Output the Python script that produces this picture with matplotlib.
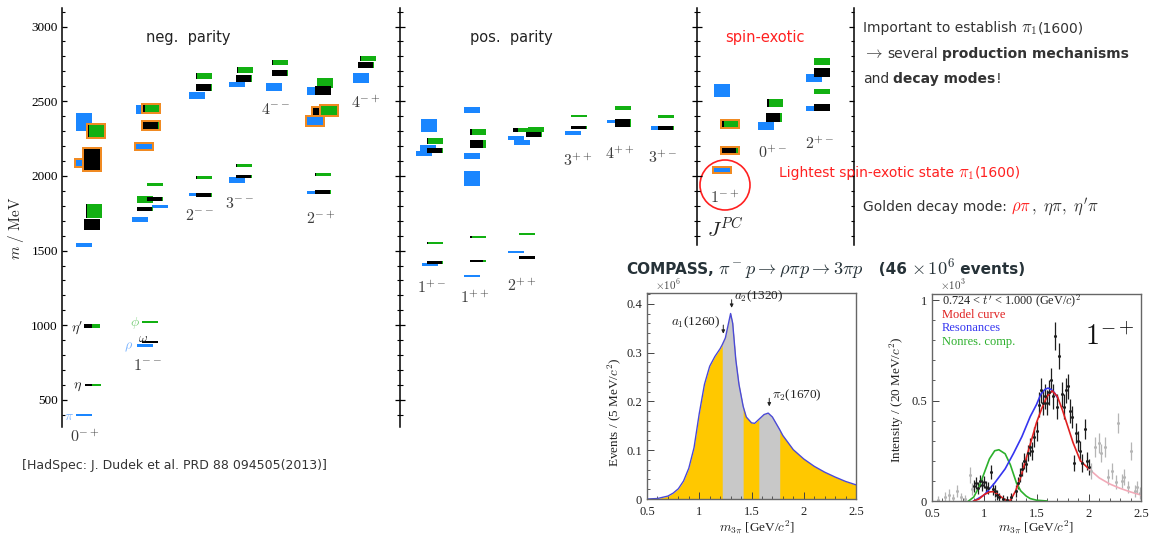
import matplotlib
matplotlib.use("Agg")
import matplotlib.pyplot as plt
import numpy as np
from matplotlib.patches import Rectangle, Ellipse
from matplotlib.ticker import MultipleLocator, NullFormatter

plt.rcParams['mathtext.fontset'] = 'cm'
plt.rcParams['font.family'] = 'DejaVu Sans'

W, H = 1151, 540

# ---------------- lattice spectrum (HadSpec) ----------------
jpc = [r"$0^{-+}$", r"$1^{--}$", r"$2^{--}$", r"$3^{--}$", r"$4^{--}$", r"$2^{-+}$", r"$4^{-+}$",
       r"$1^{+-}$", r"$1^{++}$", r"$2^{++}$", r"$3^{++}$", r"$4^{++}$", r"$3^{+-}$",
       r"$1^{-+}$", r"$0^{+-}$", r"$2^{+-}$"]

# isovector states (blue): column, mass, uncertainty, hybrid candidate
iv_col = [0, 0, 0, 0, 1, 1, 1, 1, 1, 2, 2, 3, 3, 4, 5, 5, 5, 6,
          7, 7, 7, 7, 8, 8, 8, 8, 9, 9, 9, 10, 11, 12, 13, 13, 14, 15, 15]
iv_mass = [400, 1540, 2087, 2360, 865, 1710, 1797, 2197, 2443, 1877, 2537, 1973, 2610, 2593,
           1890, 2367, 2567, 2653, 1410, 2150, 2183, 2337, 1333, 1983, 2133, 2440,
           1493, 2223, 2253, 2287, 2363, 2320, 2040, 2570, 2333, 2450, 2653]
iv_err = [6, 13, 20, 60, 6, 17, 10, 17, 30, 10, 23, 20, 17, 27, 10, 27, 27, 33,
          10, 17, 23, 43, 7, 50, 17, 20, 7, 17, 13, 13, 10, 13, 13, 43, 27, 17, 27]
iv_hybrid = [0, 0, 1, 0, 0, 0, 0, 1, 0, 0, 0, 0, 0, 0, 0, 1, 0, 0,
             0, 0, 0, 0, 0, 0, 0, 0, 0, 0, 0, 0, 0, 0, 1, 0, 0, 0, 0]

# isoscalar states: column, mass, uncertainty, strange fraction (green part), hybrid candidate
is_col = [0, 0, 0, 0, 0, 0, 1, 1, 1, 1, 1, 1, 1, 1, 2, 2, 2, 2, 3, 3, 3, 3, 4, 4,
          5, 5, 5, 5, 5, 5, 6, 6, 7, 7, 7, 7, 8, 8, 8, 8, 9, 9, 9, 9, 9,
          10, 10, 11, 11, 12, 12, 13, 13, 14, 14, 15, 15, 15, 15]
is_mass = [600, 995, 1677, 1767, 2110, 2300, 890, 1020, 1780, 1843, 1847, 1943, 2337, 2450,
           1873, 1990, 2590, 2667, 1997, 2070, 2650, 2707, 2687, 2757,
           1893, 2010, 2430, 2437, 2620, 2570, 2740, 2783, 1420, 1553, 2170, 2233,
           1433, 1593, 2213, 2293, 1457, 1610, 2305, 2280, 2312,
           2323, 2400, 2353, 2453, 2320, 2397, 2170, 2347, 2390, 2487, 2457, 2563, 2690, 2763]
is_err = [7, 13, 37, 47, 70, 40, 5, 5, 13, 23, 13, 10, 22, 25,
          13, 10, 23, 20, 10, 10, 23, 20, 20, 17,
          13, 10, 23, 30, 33, 30, 20, 17, 13, 7, 17, 20,
          7, 7, 27, 20, 10, 4, 13, 17, 15,
          10, 7, 27, 13, 13, 10, 17, 20, 30, 27, 23, 17, 30, 23]
is_ss = [0.55, 0.47, 0.0, 0.95, 0.0, 0.95, 0.0, 1.0, 0.05, 1.0, 0.05, 1.0, 0.05, 0.9,
         0.05, 0.95, 0.05, 0.95, 0.05, 0.95, 0.05, 0.95, 0.05, 0.95,
         0.05, 0.95, 0.05, 1.0, 1.0, 0.0, 0.05, 0.95, 0.05, 0.95, 0.05, 0.95,
         0.2, 0.9, 0.2, 0.85, 0.0, 1.0, 0.7, 0.05, 1.0,
         0.05, 1.0, 0.05, 1.0, 0.05, 1.0, 0.15, 0.9, 0.1, 0.9, 0.0, 1.0, 0.0, 1.0]
is_hybrid = [0, 0, 0, 0, 1, 1, 0, 0, 0, 0, 0, 0, 1, 1,
             0, 0, 0, 0, 0, 0, 0, 0, 0, 0,
             0, 0, 1, 1, 0, 0, 0, 0, 0, 0, 0, 0,
             0, 0, 0, 0, 0, 0, 0, 0, 0,
             0, 0, 0, 0, 0, 0, 1, 1, 0, 0, 0, 0, 0, 0]

# ---------------- COMPASS 3pi mass spectrum ----------------
m3pi = np.array([0.50, 0.60, 0.70, 0.75, 0.80, 0.85, 0.90, 0.95, 1.00, 1.05, 1.10, 1.15, 1.20,
                 1.22, 1.25, 1.28, 1.30, 1.32, 1.35, 1.38, 1.42, 1.45, 1.50, 1.53, 1.57, 1.62,
                 1.66, 1.70, 1.77, 1.80, 1.90, 2.00, 2.10, 2.20, 2.30, 2.40, 2.50])
events = np.array([0.000, 0.001, 0.006, 0.012, 0.021, 0.037, 0.063, 0.105, 0.175, 0.235, 0.272,
                   0.292, 0.308, 0.316, 0.330, 0.360, 0.380, 0.360, 0.285, 0.235, 0.190, 0.168,
                   0.156, 0.155, 0.163, 0.173, 0.176, 0.168, 0.142, 0.130, 0.101, 0.082, 0.067,
                   0.055, 0.045, 0.036, 0.029])
bands = [(1.22, 1.42), (1.57, 1.77)]

# ---------------- COMPASS 1-+ intensity ----------------
pt_m = np.array([0.56, 0.62, 0.66, 0.70, 0.74, 0.78, 0.82, 0.86, 0.88,
                 0.90, 0.92, 0.94, 0.96, 0.98, 1.00, 1.02, 1.04, 1.06, 1.08, 1.10, 1.12, 1.14,
                 1.18, 1.22, 1.26, 1.30, 1.32, 1.34, 1.36, 1.38, 1.40, 1.42, 1.44, 1.46, 1.48,
                 1.50, 1.52, 1.54, 1.56, 1.58, 1.60, 1.62, 1.64, 1.66, 1.68, 1.70, 1.72, 1.74,
                 1.76, 1.78, 1.80, 1.82, 1.84, 1.86, 1.88, 1.90, 1.92, 1.94, 1.96, 1.98, 2.00,
                 2.02, 2.06, 2.10, 2.12, 2.16, 2.18, 2.22, 2.26, 2.28, 2.32, 2.34, 2.38, 2.40,
                 2.44, 2.46, 2.49])
pt_i = np.array([0.005, 0.02, 0.03, 0.015, 0.05, 0.02, 0.01, 0.13, 0.06,
                 0.075, 0.09, 0.065, 0.10, 0.08, 0.095, 0.07, 0.065, 0.145, 0.06, 0.05, 0.03, 0.02,
                 0.01, 0.005, 0.02, 0.05, 0.09, 0.13, 0.16, 0.20, 0.185, 0.24, 0.27, 0.25, 0.32,
                 0.35, 0.48, 0.55, 0.49, 0.52, 0.49, 0.54, 0.60, 0.52, 0.82, 0.47, 0.72, 0.53,
                 0.47, 0.55, 0.57, 0.45, 0.42, 0.19, 0.34, 0.30, 0.25, 0.19, 0.36, 0.20, 0.17,
                 0.15, 0.27, 0.29, 0.24, 0.27, 0.12, 0.15, 0.095, 0.39, 0.10, 0.12, 0.07, 0.25,
                 0.05, 0.07, 0.04])
pt_e = np.array([0.02, 0.025, 0.03, 0.02, 0.03, 0.02, 0.02, 0.04, 0.03,
                 0.03, 0.03, 0.03, 0.03, 0.03, 0.03, 0.03, 0.03, 0.035, 0.03, 0.03, 0.025, 0.02,
                 0.02, 0.02, 0.02, 0.03, 0.03, 0.035, 0.035, 0.04, 0.04, 0.04, 0.045, 0.045, 0.05,
                 0.05, 0.06, 0.06, 0.06, 0.06, 0.06, 0.06, 0.06, 0.06, 0.07, 0.06, 0.065, 0.06,
                 0.06, 0.06, 0.06, 0.06, 0.055, 0.04, 0.05, 0.05, 0.05, 0.045, 0.05, 0.045, 0.04,
                 0.04, 0.05, 0.05, 0.045, 0.05, 0.04, 0.04, 0.035, 0.05, 0.035, 0.04, 0.03, 0.045,
                 0.03, 0.03, 0.03])
fit_range = (0.9, 2.0)

model_m = [0.90, 0.95, 1.00, 1.05, 1.09, 1.15, 1.20, 1.25, 1.30, 1.35, 1.40, 1.45, 1.50,
           1.55, 1.60, 1.65, 1.70, 1.75, 1.80, 1.85, 1.92, 2.00]
model_i = [0.0, 0.01, 0.032, 0.045, 0.047, 0.025, 0.005, 0.003, 0.05, 0.12, 0.21, 0.30, 0.39,
           0.46, 0.52, 0.548, 0.52, 0.45, 0.37, 0.29, 0.20, 0.16]
tail_m = [2.00, 2.10, 2.20, 2.30, 2.40, 2.50]
tail_i = [0.16, 0.115, 0.085, 0.063, 0.045, 0.03]
res_m = [0.90, 1.00, 1.10, 1.20, 1.28, 1.36, 1.44, 1.50, 1.54, 1.58, 1.61, 1.64, 1.67, 1.70]
res_i = [0.0, 0.03, 0.09, 0.16, 0.237, 0.32, 0.42, 0.48, 0.53, 0.555, 0.562, 0.555, 0.54, 0.515]
nonres_m = [0.85, 0.90, 0.95, 1.00, 1.05, 1.10, 1.14, 1.20, 1.25, 1.31, 1.35, 1.40, 1.44, 1.50, 1.60]
nonres_i = [0.0, 0.02, 0.07, 0.14, 0.21, 0.25, 0.255, 0.235, 0.18, 0.087, 0.05, 0.025, 0.012, 0.004, 0.0]

# ---------------- layout ----------------
col_x = [88, 148, 201, 241, 278, 319, 365, 433, 476, 520, 577, 619, 663, 726, 770, 818]
col_panel = [0] * 7 + [1] * 6 + [2] * 3
iv_shift = [0, 0, 0, 0, 1, -4, 16, 0, 0, 0, 0, 0, 0, 0, 0, 0, 0, 0,
            1, -5, -1, 0, 0, 0, 0, 0, 0, 6, 0, 0, 0, 0, 0, 0, 0, 0, 0]
is_shift = [2, 1, 1, 3, 1, 5, -1, -1, -6, -6, 4, 4, 0, 0,
            0, 0, 0, 0, 0, 0, 0, 1, -1, -1,
            1, 1, -1, 7, 3, 1, -2, 0, -1, -1, -1, -1,
            -1, -1, -1, -1, 4, 4, -2, 11, 13,
            -1, -1, 1, 1, 0, 0, 1, 1, 1, 2, 1, 1, 1, 1]
label_px = [(85, 437), (148, 366), (200, 216), (240, 204), (276, 109), (321, 219), (366, 103),
            (432, 288), (475, 298), (522, 286), (578, 161), (620, 154), (663, 158),
            (725, 198), (773, 153), (820, 144)]

BLUE, GREEN, ORANGE = '#1a86ff', '#12b012', '#f08a22'
TXT = '#333333'
RED = '#ff2020'
REW = 16  # state box width in px


def mass_at(ypx):
    return 3000 - (ypx - 26.5) * 2500 / 373.5


def px_axes(x0, y0, x1, y1):
    return fig.add_axes([x0 / W, 1 - y1 / H, (x1 - x0) / W, (y1 - y0) / H])


def ftext(x, y, s, **kw):
    return fig.text(x / W, 1 - y / H, s, **kw)


fig = plt.figure(figsize=(W / 100, H / 100), dpi=100)
renderer = fig.canvas.get_renderer()


def chain(x, y, parts, fontsize=10):
    # text pieces with different colours/weights, laid out one after another
    for s, props in parts:
        gap = 4 if s.endswith(' ') else 0
        kw = dict(fontsize=fontsize * 1.2 if s.startswith('$') else fontsize)
        kw.update(props)
        t = ftext(x, y, s.rstrip(' '), va='baseline', ha='left', **kw)
        x += t.get_window_extent(renderer=renderer).width + gap
    return x


# spectrum panels
m_top, m_bot = mass_at(8), mass_at(427)
ax1 = px_axes(62, 8, 400, 427)
ax2 = px_axes(400, 8, 697, 427)
ax3 = px_axes(697, 8, 854, 245)
ax3r = ax3.twinx()
ax1.set_xlim(62, 400)
ax2.set_xlim(400, 697)
ax3.set_xlim(697, 854)
ax1.set_ylim(m_bot, m_top)
ax2.set_ylim(m_bot, m_top)
ax3.set_ylim(mass_at(245), m_top)
ax3r.set_ylim(mass_at(245), m_top)
for ax in (ax1, ax2, ax3, ax3r):
    ax.patch.set_visible(False)
    for sp in ax.spines.values():
        sp.set_visible(False)
    ax.set_xticks([])
    ax.yaxis.set_major_locator(MultipleLocator(500))
    ax.yaxis.set_minor_locator(MultipleLocator(100))
    ax.yaxis.set_major_formatter(NullFormatter())
ax1.spines['left'].set_visible(True)
ax1.tick_params(axis='y', which='both', direction='in', left=True, right=False)
ax1.tick_params(axis='y', which='major', length=3.5, width=0.9)
ax1.tick_params(axis='y', which='minor', length=2, width=0.8)
ax1.yaxis.set_major_formatter(matplotlib.ticker.FuncFormatter(lambda v, p: f"{v:.0f}"))
ax1.tick_params(axis='y', labelsize=9.5, pad=3)
for lab in ax1.get_yticklabels():
    lab.set_family('Liberation Serif')
for ax in (ax2, ax3):
    ax.spines['left'].set_visible(True)
    ax.tick_params(axis='y', which='both', direction='inout', left=True, right=False)
    ax.tick_params(axis='y', which='major', length=7, width=0.9)
    ax.tick_params(axis='y', which='minor', length=4, width=0.8)
ax3r.spines['right'].set_visible(True)
ax3r.tick_params(axis='y', which='both', direction='in', right=True)
ax3r.tick_params(axis='y', which='major', length=3.5, width=0.9)
ax3r.tick_params(axis='y', which='minor', length=2, width=0.8)
for ax in (ax1, ax2, ax3, ax3r):
    for sp in ax.spines.values():
        sp.set_linewidth(1.1)
panels = [ax1, ax2, ax3]


def hybrid_frame(ax, x0, m, h):
    ax.add_patch(Rectangle((x0 - 2, m - h - 14), REW + 4, 2 * h + 28, color=ORANGE, lw=0))


for c, m, e, hyb, sh in zip(iv_col, iv_mass, iv_err, iv_hybrid, iv_shift):
    ax = panels[col_panel[c]]
    x0 = col_x[c] - 12 + sh
    h = max(e, 7)
    if hyb:
        hybrid_frame(ax, x0, m, h)
    ax.add_patch(Rectangle((x0, m - h), REW, 2 * h, color=BLUE, lw=0))

for c, m, e, ss, hyb, sh in zip(is_col, is_mass, is_err, is_ss, is_hybrid, is_shift):
    ax = panels[col_panel[c]]
    x0 = col_x[c] - 5 + sh
    h = max(e, 6)
    if hyb:
        hybrid_frame(ax, x0, m, h)
    wb = REW * (1 - ss)
    if wb > 0:
        ax.add_patch(Rectangle((x0, m - h), wb, 2 * h, color='black', lw=0))
    if ss > 0:
        ax.add_patch(Rectangle((x0 + wb, m - h), REW * ss, 2 * h, color=GREEN, lw=0))

for lab, (x, y) in zip(jpc, label_px):
    ftext(x, y, lab, ha='center', va='center', fontsize=11.5, color='#3c3c3c')

# particle names next to the ground states
ftext(74, 416, r"$\pi$", ha='right', va='center', fontsize=10, color='#7ab4ff')
ftext(82, 386, r"$\eta$", ha='right', va='center', fontsize=10, color='#222222')
ftext(83, 328, r"$\eta'$", ha='right', va='center', fontsize=10, color='#222222')
ftext(140, 323, r"$\phi$", ha='right', va='center', fontsize=10, color='#7fd07f')
ftext(143, 338, r"$\omega$", ha='center', va='center', fontsize=9.5, color='#222222')
ftext(133, 347, r"$\rho$", ha='right', va='center', fontsize=10, color='#7ab4ff')

ftext(188, 42, "neg.  parity", ha='center', va='baseline', fontsize=10.5, color='#222222')
ftext(511, 42, "pos.  parity", ha='center', va='baseline', fontsize=10.5, color='#222222')
ftext(765, 42, "spin-exotic", ha='center', va='baseline', fontsize=10.5, color=RED)
ftext(725, 229, r"$J^{PC}$", ha='center', va='center', fontsize=15, color='#222222')
ftext(16, 228, r"$m\ /\ \mathrm{MeV}$", ha='center', va='center', rotation=90, fontsize=11,
      color='#222222')
ax3.add_patch(Ellipse((725, mass_at(185)), 50, 50 * 2500 / 373.5, fill=False,
                      edgecolor=RED, lw=1.2, clip_on=False))

# slide text
chain(863, 32, [("Important to establish ", dict(color=TXT)), (r"$\pi_1$", dict(color=TXT)),
                ("(1600)", dict(color=TXT))])
chain(863, 58, [(r"$\rightarrow$ ", dict(color=TXT)), ("several ", dict(color=TXT)),
                ("production mechanisms", dict(color=TXT, weight='bold'))])
chain(863, 83, [("and ", dict(color=TXT)), ("decay modes", dict(color=TXT, weight='bold')),
                ("!", dict(color=TXT))])
chain(779, 177, [("Lightest spin-exotic state ", dict(color=RED)),
                 (r"$\pi_1$", dict(color=RED)), ("(1600)", dict(color=RED))])
chain(863, 211, [("Golden decay mode: ", dict(color=TXT)), (r"$\rho\pi$", dict(color=RED)),
                 (r"$,\ \eta\pi,\ \eta'\pi$", dict(color=TXT))])
ftext(22, 469, "[HadSpec: J. Dudek et al. PRD 88 094505(2013)]", fontsize=9, color=TXT,
      va='baseline')
chain(626, 274, [("COMPASS, ", dict(color='#263238', weight='bold')),
                 (r"$\pi^-p\rightarrow\rho\pi p\rightarrow 3\pi p$", dict(color='#263238')),
                 ("   (46 ", dict(color='#263238', weight='bold')),
                 (r"$\times\,10^{6}$", dict(color='#263238')),
                 (" events)", dict(color='#263238', weight='bold'))], fontsize=11)


def root_style(ax, ymajor, yminor):
    ax.set_xlim(0.5, 2.5)
    ax.xaxis.set_major_locator(MultipleLocator(0.5))
    ax.xaxis.set_minor_locator(MultipleLocator(0.1))
    ax.yaxis.set_major_locator(MultipleLocator(ymajor))
    ax.yaxis.set_minor_locator(MultipleLocator(yminor))
    ax.xaxis.set_major_formatter(matplotlib.ticker.FuncFormatter(lambda v, p: f"{v:g}"))
    ax.yaxis.set_major_formatter(matplotlib.ticker.FuncFormatter(lambda v, p: f"{v:g}"))
    ax.tick_params(which='both', direction='in', top=False, right=False, labelsize=9,
                   color='#444444', labelcolor='#222222')
    ax.tick_params(which='major', length=5, width=0.7)
    ax.tick_params(which='minor', length=2.5, width=0.6)
    ax.tick_params(axis='x', pad=5)
    for lab in ax.get_xticklabels() + ax.get_yticklabels():
        lab.set_family('Liberation Serif')
    for sp in ax.spines.values():
        sp.set_color('#666666')
        sp.set_linewidth(1.0)


serif = dict(family='Liberation Serif', color='#222222')

# left: total 3pi mass spectrum
ax4 = px_axes(647, 293, 856, 499)
ax4.fill_between(m3pi, events, color='#ffc800', lw=0)
for lo, hi in bands:
    sel = (m3pi >= lo) & (m3pi <= hi)
    ax4.fill_between(m3pi[sel], events[sel], color='#c8c8c8', lw=0)
ax4.plot(m3pi, events, color='#4a4ad8', lw=1.0)
ax4.set_ylim(0, 0.422)
root_style(ax4, 0.1, 0.02)
arrow = dict(arrowstyle='-|>', lw=0.7, color='#222222', mutation_scale=5)
ax4.annotate('', xy=(1.23, 0.333), xytext=(1.23, 0.362), arrowprops=arrow)
ax4.annotate('', xy=(1.31, 0.386), xytext=(1.31, 0.414), arrowprops=arrow)
ax4.annotate('', xy=(1.67, 0.184), xytext=(1.67, 0.212), arrowprops=arrow)
ax4.text(1.20, 0.362, r"$a_1$(1260)", ha='right', va='center', fontsize=9.5, **serif)
ax4.text(1.33, 0.415, r"$a_2$(1320)", ha='left', va='center', fontsize=9.5, **serif)
ax4.text(1.70, 0.212, r"$\pi_2$(1670)", ha='left', va='center', fontsize=9.5, **serif)
ftext(655, 285, r"$\times10^{6}$", fontsize=8, color='#444444', va='center')
ftext(614, 412, r"Events / (5 MeV/$c^2$)", rotation=90, ha='center', va='center',
      fontsize=9.5, **serif)
ftext(757, 528, r"$m_{3\pi}$ [GeV/$c^2$]", ha='center', va='center', fontsize=9.5, **serif)

# right: 1-+ wave intensity
ax5 = px_axes(932, 294, 1141, 501)
gray = (pt_m < fit_range[0]) | (pt_m > fit_range[1])
ax5.errorbar(pt_m[gray], pt_i[gray], yerr=pt_e[gray], fmt='o', ms=1.2, color='#b5b5b5',
             elinewidth=0.9, capsize=0)
ax5.errorbar(pt_m[~gray], pt_i[~gray], yerr=pt_e[~gray], fmt='o', ms=1.2, color='#1e1e1e',
             elinewidth=0.9, capsize=0)
ax5.plot(nonres_m, nonres_i, color='#2cb02c', lw=1.2)
ax5.plot(res_m, res_i, color='#3535f0', lw=1.2)
ax5.plot(model_m, model_i, color='#e02020', lw=1.2)
ax5.plot(tail_m, tail_i, color='#f2aab8', lw=1.2)
ax5.set_ylim(0, 1.03)
root_style(ax5, 0.5, 0.1)
ftext(940, 285, r"$\times10^{3}$", fontsize=8, color='#444444', va='center')
ftext(897, 400, r"Intensity / (20 MeV/$c^2$)", rotation=90, ha='center', va='center',
      fontsize=9.5, **serif)
ftext(1036, 528, r"$m_{3\pi}$ [GeV/$c^2$]", ha='center', va='center', fontsize=9.5, **serif)
ftext(942, 301, r"0.724 < $t'$ < 1.000 (GeV/$c$)$^2$", fontsize=8.8, va='center', **serif)
ftext(942, 315, "Model curve", fontsize=9, va='center', family='Liberation Serif', color='#e02020')
ftext(942, 328, "Resonances", fontsize=9, va='center', family='Liberation Serif', color='#3535f0')
ftext(942, 342, "Nonres. comp.", fontsize=9, va='center', family='Liberation Serif',
      color='#2cb02c')
ftext(1110, 337, r"$\mathbf{1^{-+}}$", ha='center', va='center', fontsize=20, color='#111111')

fig.savefig("out.png", dpi=100)
